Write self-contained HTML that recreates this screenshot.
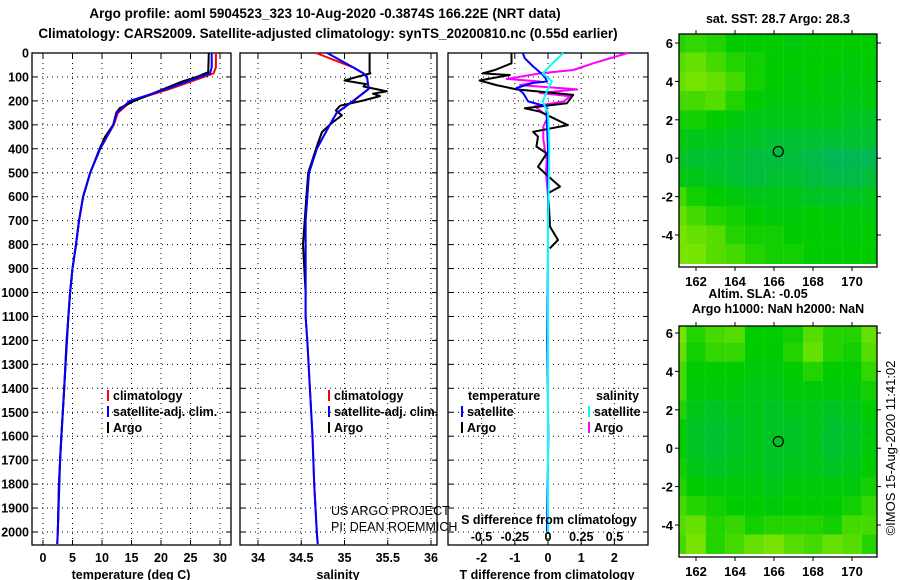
<!DOCTYPE html>
<html><head><meta charset="utf-8"><style>
body{margin:0;background:#fff;}
svg{display:block;font-family:"Liberation Sans",sans-serif;}
text{font-size:12.5px;font-weight:bold;fill:#000;}
</style></head><body>
<svg id="s" width="900" height="580" viewBox="0 0 900 580"></svg>
<script>
// ---------- data ----------
const depthTicks=[0,100,200,300,400,500,600,700,800,900,1000,1100,1200,1300,1400,1500,1600,1700,1800,1900,2000];
const tTicks=[0,5,10,15,20,25,30];
const sTicks=[34,34.5,35,35.5,36];
const dtTicks=[-2,-1,0,1,2];
const dsTicks=[-0.5,-0.25,0,0.25,0.5];
const dsTickLabels=["-0.5","-0.25","0","0.25","0.5"];
const climDepth=[0,60,85,100,150,200,250,300,400,500,600,700,800,900,1000,1100,1200,1400,1600,1800,2000,2050];
const climTemp=[29.3,29.3,28.9,27.2,21.5,15.0,12.7,12.0,9.7,8.0,6.8,6.1,5.6,5.0,4.6,4.3,4.0,3.6,3.1,2.7,2.5,2.4];
const satTemp=[28.6,28.6,28.3,26.6,21.0,14.7,12.5,11.9,9.7,8.0,6.8,6.1,5.6,5.0,4.6,4.3,4.0,3.6,3.1,2.7,2.5,2.4];
const climSal=[34.67,35.1,35.22,35.26,35.28,35.1,34.91,34.83,34.68,34.59,34.57,34.55,34.55,34.55,34.55,34.55,34.57,34.6,34.63,34.65,34.68,34.69];
const satSal=[34.8,35.1,35.22,35.26,35.28,35.1,34.91,34.83,34.68,34.59,34.57,34.55,34.55,34.55,34.55,34.55,34.57,34.6,34.63,34.65,34.68,34.69];
const argoDepth=[0,80,100,120,150,180,200,230,250,300,350,400,500,600,700,800,900,1000,1100,1400,1700,2000];
const argoTemp=[28.1,28.0,26.0,23.5,20.5,17.5,15.5,13.0,12.4,11.9,10.5,9.6,8.0,6.8,6.1,5.6,5.0,4.6,4.3,3.6,2.9,2.5];
const argoSalDepth=[0,80,85,100,115,130,140,160,170,180,200,220,240,260,290,330,390,500,600,800,1000];
const argoSal=[35.29,35.29,35.3,35.14,35.0,35.25,35.22,35.49,35.33,35.41,35.2,34.95,34.9,34.97,34.86,34.74,34.68,34.58,34.56,34.52,34.55];
const dtArgoDepth=[0,43,71,85,92,115,134,152,175,210,231,245,301,329,349,391,419,475,509,558,586,642,725,781,816];
const dtArgo=[-1.1,-1.1,-1.6,-1.97,-1.15,-2.06,-1.55,-0.95,0.76,0.57,-0.7,-0.24,0.6,-0.45,-0.3,-0.35,-0.04,-0.3,-0.04,0.36,0,0.03,0.06,0.3,0.05];
const dtSatDepth=[0,22,56,98,119,125,146,167,202,223,400,800,1200,1600,2000];
const dtSat=[-0.76,-0.7,-0.45,-0.1,-0.03,-0.45,-0.95,-0.75,-0.6,-0.05,0,0,-0.02,0.01,-0.03];
const dsSatDepth=[0,40,85,119,150,202,250,400,700,1000,1500,2000];
const dsSat=[0.115,0.04,-0.04,0.03,0.0,-0.04,0.0,0.01,0.0,0.0,0.0,0.0];
const dsArgoDepth=[0,43,71,85,108,119,134,152,167,181,202,223,265,307,360,447,502,600,712,1000];
const dsArgo=[0.6,0.34,0.19,-0.06,-0.31,-0.06,-0.21,0.22,-0.06,0.165,0.12,-0.1,0.0,-0.035,-0.035,-0.01,-0.015,0.0,0.0,0.0];
const lonTicks=[162,164,166,168,170];
const latTicks=[6,4,2,0,-2,-4];
const sstField=[
[0.6,0.65,0.6,0.5,0.5,0.5,0.45,0.5,0.5,0.5,0.5],
[0.75,0.8,0.7,0.6,0.55,0.5,0.5,0.5,0.5,0.45,0.5],
[0.8,0.85,0.8,0.7,0.55,0.5,0.45,0.5,0.45,0.45,0.45],
[0.7,0.7,0.75,0.6,0.5,0.45,0.45,0.45,0.45,0.4,0.45],
[0.55,0.55,0.5,0.45,0.4,0.4,0.4,0.4,0.4,0.35,0.35],
[0.45,0.4,0.4,0.35,0.35,0.3,0.3,0.3,0.3,0.3,0.3],
[0.35,0.3,0.3,0.3,0.25,0.25,0.25,0.2,0.15,0.15,0.15],
[0.45,0.4,0.35,0.3,0.25,0.3,0.3,0.25,0.2,0.2,0.25],
[0.7,0.55,0.5,0.45,0.4,0.4,0.4,0.35,0.35,0.35,0.4],
[0.8,0.7,0.6,0.55,0.5,0.45,0.45,0.5,0.45,0.45,0.45],
[0.85,0.8,0.75,0.6,0.55,0.55,0.5,0.5,0.5,0.45,0.5],
[0.85,0.85,0.75,0.7,0.6,0.55,0.55,0.5,0.5,0.5,0.5]];
const slaField=[
[0.85,0.6,0.7,0.75,0.5,0.5,0.55,0.75,0.6,0.6,0.8],
[0.8,0.55,0.65,0.65,0.5,0.5,0.6,0.8,0.6,0.55,0.75],
[0.7,0.5,0.5,0.5,0.45,0.45,0.5,0.6,0.5,0.5,0.65],
[0.7,0.45,0.45,0.45,0.4,0.4,0.45,0.45,0.45,0.45,0.55],
[0.6,0.4,0.35,0.4,0.4,0.35,0.4,0.4,0.35,0.4,0.5],
[0.5,0.35,0.3,0.35,0.4,0.35,0.35,0.4,0.3,0.35,0.45],
[0.5,0.35,0.3,0.35,0.4,0.35,0.35,0.4,0.3,0.35,0.45],
[0.55,0.4,0.35,0.4,0.4,0.35,0.4,0.4,0.35,0.4,0.5],
[0.6,0.5,0.45,0.45,0.45,0.4,0.45,0.45,0.45,0.45,0.55],
[0.7,0.6,0.55,0.5,0.5,0.45,0.5,0.5,0.5,0.55,0.65],
[0.75,0.8,0.6,0.65,0.55,0.6,0.6,0.6,0.55,0.7,0.7],
[0.7,0.85,0.6,0.7,0.8,0.85,0.75,0.7,0.8,0.75,0.6]];
const floatLon=166.22, floatLat=0.35;

// ---------- helpers ----------
const S=document.getElementById('s');const NS='http://www.w3.org/2000/svg';
function mk(tag,at,parent){const e=document.createElementNS(NS,tag);for(const k in at)e.setAttribute(k,at[k]);(parent||S).appendChild(e);return e;}
function txt(x,y,str,anchor,extra){const e=mk('text',Object.assign({x:x,y:y,'text-anchor':anchor||'start'},extra||{}));e.textContent=str;return e;}
const TOP=53,BOT=545;
const yD=d=>TOP+d*0.2395;
function panel(name,x0,x1,ticks,xf,labels,showDepth){
  const g=mk('g',{});
  
  
  ticks.forEach(t=>{const x=xf(t);mk('line',{x1:x,x2:x,y1:TOP,y2:BOT,stroke:'#000','stroke-width':1,'stroke-dasharray':'1,4'},g);
    mk('line',{x1:x,x2:x,y1:BOT,y2:BOT-5,stroke:'#000'},g);mk('line',{x1:x,x2:x,y1:TOP,y2:TOP+5,stroke:'#000'},g);});
  depthTicks.forEach(d=>{const y=yD(d);mk('line',{x1:x0,x2:x1,y1:y,y2:y,stroke:'#000','stroke-width':1,'stroke-dasharray':'1,4'},g);
    mk('line',{x1:x0,x2:x0+5,y1:y,y2:y,stroke:'#000'},g);mk('line',{x1:x1-5,x2:x1,y1:y,y2:y,stroke:'#000'},g);
    if(showDepth){const t=txt(29,y+4.5,String(d),'end');}});
  mk('rect',{x:x0,y:TOP,width:x1-x0,height:BOT-TOP,fill:'none',stroke:'#000','stroke-width':1.3},g);
  if(labels) ticks.forEach((t,i)=>{const e=txt(xf(t),562,labels[i],'middle');});
  return g;
}
function line(name,ds,vs,xf,color,w){
  const pts=ds.map((d,i)=>xf(vs[i]).toFixed(1)+','+yD(d).toFixed(1)).join(' ');
  const p=mk('polyline',{points:pts,fill:'none',stroke:color,'stroke-width':w||2,'stroke-linejoin':'round'});
  
  
}
function legendBar(x,y,color){mk('rect',{x:x,y:y-10,width:2,height:11,fill:color});}
function legendItem(x,y,color,label,name){legendBar(x,y,color);const t=txt(x+6,y,label);}

let t1=txt(325,18,'Argo profile: aoml 5904523_323 10-Aug-2020 -0.3874S 166.22E (NRT data)','middle',{style:'font-size:13.5px'});

let t2=txt(328,38,'Climatology: CARS2009. Satellite-adjusted climatology: synTS_20200810.nc (0.55d earlier)','middle',{style:'font-size:13.5px'});


const xT=v=>43+v*5.9;
panel('temperature-panel',32,231,tTicks,xT,tTicks.map(String),true);
line('temp-climatology-line',climDepth,climTemp,xT,'#ff0000');
line('temp-argo-line',argoDepth,argoTemp,xT,'#000');
line('temp-satellite-line',climDepth,satTemp,xT,'#0000ff');
let a1=txt(131,579,'temperature (deg C)','middle');
legendItem(107,400,'#ff0000','climatology','legend-climatology');
legendItem(107,416,'#0000ff','satellite-adj. clim.','legend-satellite-adj');
legendItem(107,432,'#000','Argo','legend-argo');

const xS=v=>258+(v-34)*86.5;
panel('salinity-panel',240,437,sTicks,xS,['34','34.5','35','35.5','36'],false);
line('sal-climatology-line',climDepth,climSal,xS,'#ff0000');
line('sal-argo-line',argoSalDepth,argoSal,xS,'#000');
line('sal-satellite-line',climDepth,satSal,xS,'#0000ff');
let a2=txt(338,579,'salinity','middle');
legendItem(328,400,'#ff0000','climatology','legend-climatology-2');
legendItem(328,416,'#0000ff','satellite-adj. clim.','legend-satellite-adj-2');
legendItem(328,432,'#000','Argo','legend-argo-2');
let c1=txt(331,515,'US ARGO PROJECT','start',{style:'font-weight:normal'});
let c2=txt(331,531,'PI: DEAN ROEMMICH','start',{style:'font-weight:normal'});

const xDT=v=>548+v*33.2;
const xDS=v=>548+v*133;
panel('difference-panel',448,648,dtTicks,xDT,['-2','-1','0','1','2'],false);
line('sdiff-argo-line',dsArgoDepth,dsArgo,xDS,'#ff00ff');
line('tdiff-argo-line',dtArgoDepth,dtArgo,xDT,'#000');
line('tdiff-satellite-line',dtSatDepth,dtSat,xDT,'#0000ff');
line('sdiff-satellite-line',dsSatDepth,dsSat,xDS,'#00ffff');
dsTicks.forEach((v,i)=>{const e=txt(xDS(v),541,dsTickLabels[i],'middle');});
let sd=txt(549,524,'S difference from climatology','middle');
let a3=txt(547,579,'T difference from climatology','middle');
let lt=txt(468,400,'temperature');
let ls=txt(596,400,'salinity');
legendItem(461,416,'#0000ff','satellite','legend-t-satellite');
legendItem(461,432,'#000','Argo','legend-t-argo');
legendItem(588,416,'#00ffff','satellite','legend-s-satellite');
legendItem(588,432,'#ff00ff','Argo','legend-s-argo');

function colorOf(v){
  let r,g,b;
  if(v<0.5){const f=v/0.5;r=0;g=Math.round(176+(204-176)*f);b=Math.round(120*(1-f));}
  else{const f=(v-0.5)/0.5;r=Math.round(170*f);g=Math.round(204+(238-204)*f);b=0;}
  return `rgb(${r},${g},${b})`;
}
function map(name,x0,x1,y0,y1,latY0,field,lonLabelY){
  const g=mk('g',{});
  
  
  const lx=v=>696+(v-162)*19.5;
  const ly=v=>latY0-(v-6)*19.2;
  const cp='clip-'+name;
  const cl=mk('clipPath',{id:cp},g);mk('rect',{x:x0,y:y0,width:x1-x0,height:y1-y0},cl);
  const cg=mk('g',{'clip-path':`url(#${cp})`},g);
  field.forEach((row,ri)=>row.forEach((v,ci)=>{
    const lon=161+ci, lat=6-ri;
    const c=mk('rect',{x:lx(lon-0.5),y:ly(lat+0.5),width:19.6,height:19.4,fill:colorOf(v)},cg);
    
    
  }));
  mk('rect',{x:x0,y:y0,width:x1-x0,height:y1-y0,fill:'none',stroke:'#000','stroke-width':1.3},g);
  lonTicks.forEach(v=>{const x=lx(v);mk('line',{x1:x,x2:x,y1:y0-4,y2:y0,stroke:'#000'},g);mk('line',{x1:x,x2:x,y1:y1,y2:y1+4,stroke:'#000'},g);
    const e=txt(x,lonLabelY,String(v),'middle',{style:'font-size:13px'});});
  latTicks.forEach(v=>{const y=ly(v);mk('line',{x1:x0-4,x2:x0,y1:y,y2:y,stroke:'#000'},g);mk('line',{x1:x1,x2:x1+4,y1:y,y2:y,stroke:'#000'},g);
    const e=txt(673,y+5,String(v),'end',{style:'font-size:13px'});});
  const m=mk('circle',{cx:lx(floatLon),cy:ly(floatLat),r:5,fill:'none',stroke:'#000','stroke-width':1.2},g);
  
  
}
map('sst-map',679,877,34,267,43,sstField,286);
map('sla-map',679,877,326,557,333,slaField,576);
let m1=txt(778,23,'sat. SST: 28.7 Argo: 28.3','middle');
let m2=txt(758,298,'Altim. SLA: -0.05','middle');
let m3=txt(778,313,'Argo h1000: NaN h2000: NaN','middle');
let cr=txt(0,0,'©IMOS 15-Aug-2020 11:41:02','middle',{transform:'translate(895,448) rotate(-90)',style:'font-weight:normal;font-size:13px'});

</script>
</body></html>
